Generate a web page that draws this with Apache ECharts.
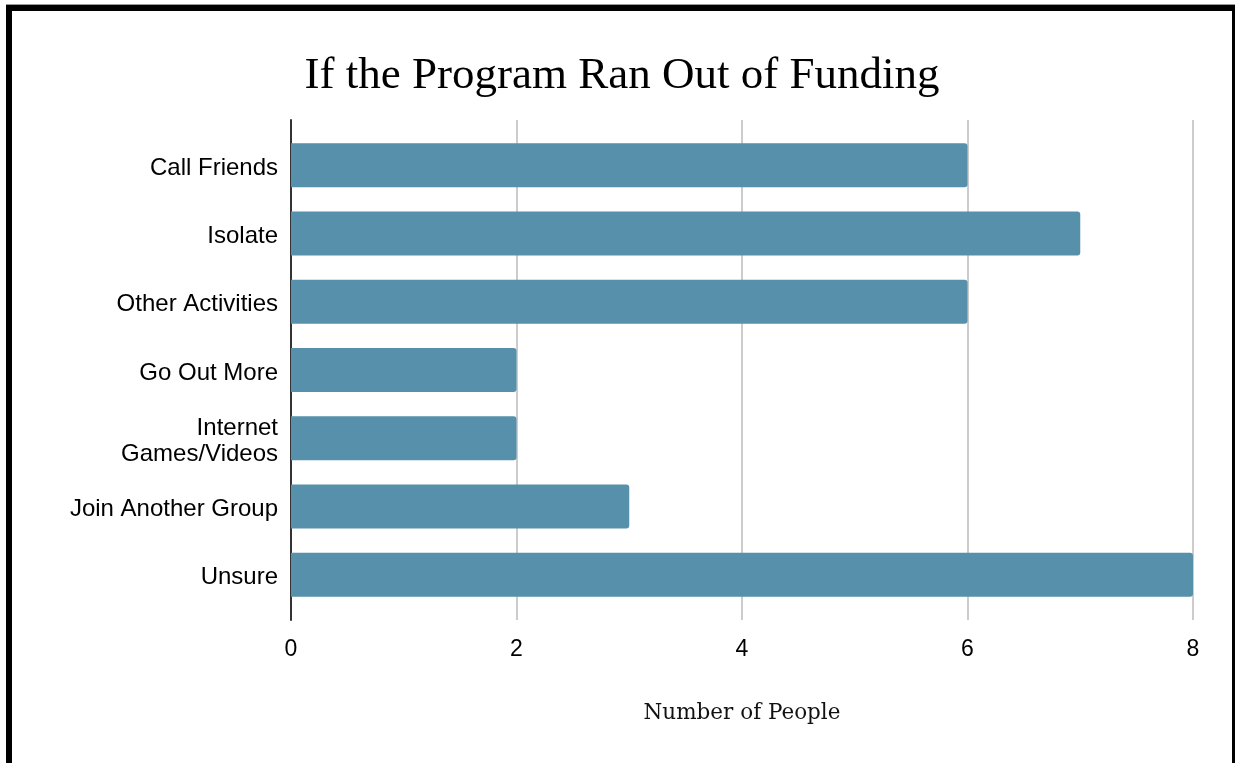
<!DOCTYPE html>
<html>
<head>
<meta charset="utf-8">
<script src="https://cdn.jsdelivr.net/npm/echarts@6/dist/echarts.min.js"></script>
<style>
  html, body { margin: 0; padding: 0; background: #fff; }
  #chart { width: 1235px; height: 763px; }
</style>
</head>
<body>
<div id="chart"></div>
<script>
// Survey responses: what people would do if the program ran out of funding
const categories = [
  'Call Friends',
  'Isolate',
  'Other Activities',
  'Go Out More',
  'Internet\nGames/Videos',
  'Join Another Group',
  'Unsure'
];
const peopleCounts = [6, 7, 6, 2, 2, 3, 8];
const xTicks = [0, 2, 4, 6, 8];

const chart = echarts.init(document.getElementById('chart'), null, { renderer: 'canvas' });

const sansFont = '"Liberation Sans", Arial, sans-serif';
const serifFont = '"Liberation Serif", "Times New Roman", serif';

chart.setOption({
  backgroundColor: '#ffffff',
  animation: false,
  title: {
    text: 'If the Program Ran Out of Funding',
    left: 617,
    top: 49,
    textAlign: 'center',
    textStyle: {
      fontFamily: serifFont,
      fontSize: 45,
      fontWeight: 'normal',
      color: '#000'
    }
  },
  grid: [
    // bars
    { left: 291, right: 42, top: 131, bottom: 154 },
    // gridlines, value labels and the zero line, slightly taller than the bar band
    { left: 291, right: 42, top: 120, bottom: 143 },
    // category labels, set a touch lower so the text sits centred on each bar
    { left: 291, right: 42, top: 134, bottom: 151 }
  ],
  xAxis: [
    { type: 'value', gridIndex: 0, min: 0, max: 8, interval: 2, show: false },
    {
      type: 'value',
      gridIndex: 1,
      min: xTicks[0],
      max: xTicks[xTicks.length - 1],
      interval: 2,
      axisLine: { show: false },
      axisTick: { show: false },
      axisLabel: {
        fontFamily: sansFont,
        fontSize: 23,
        color: '#000',
        margin: 18
      },
      splitLine: { show: true, lineStyle: { color: '#cccccc', width: 2 } },
      name: 'Number of People',
      nameLocation: 'middle',
      nameGap: 82,
      nameTextStyle: {
        fontFamily: '"DejaVu Serif", serif',
        fontSize: 21.5,
        color: '#111'
      }
    },
    { type: 'value', gridIndex: 2, min: 0, max: 8, interval: 2, show: false }
  ],
  yAxis: [
    {
      type: 'category',
      gridIndex: 0,
      data: categories,
      inverse: true,
      show: false
    },
    {
      type: 'value',
      gridIndex: 1,
      min: 0,
      max: 1,
      axisLine: { show: true, onZero: false, lineStyle: { color: '#333333', width: 2 } },
      axisTick: { show: false },
      axisLabel: { show: false },
      splitLine: { show: false }
    },
    {
      type: 'category',
      gridIndex: 2,
      data: categories,
      inverse: true,
      axisLine: { show: false },
      axisTick: { show: false },
      splitLine: { show: false },
      axisLabel: {
        fontFamily: sansFont,
        fontSize: 24,
        lineHeight: 26,
        color: '#000',
        margin: 13
      }
    }
  ],
  series: [
    {
      type: 'bar',
      xAxisIndex: 0,
      yAxisIndex: 0,
      data: peopleCounts,
      barWidth: 44,
      z: 5,
      itemStyle: {
        color: '#5690ab',
        borderRadius: [0, 3, 3, 0]
      }
    }
  ],
  graphic: [
    // picture frame
    { type: 'rect', shape: { x: 6, y: 4, width: 1229, height: 1 }, style: { fill: '#999999' }, silent: true },
    { type: 'rect', shape: { x: 6, y: 5, width: 1229, height: 6 }, style: { fill: '#000000' }, silent: true },
    { type: 'rect', shape: { x: 6, y: 5, width: 6, height: 758 }, style: { fill: '#000000' }, silent: true },
    { type: 'rect', shape: { x: 1232, y: 5, width: 3, height: 758 }, style: { fill: '#000000' }, silent: true }
  ]
});
</script>
</body>
</html>
